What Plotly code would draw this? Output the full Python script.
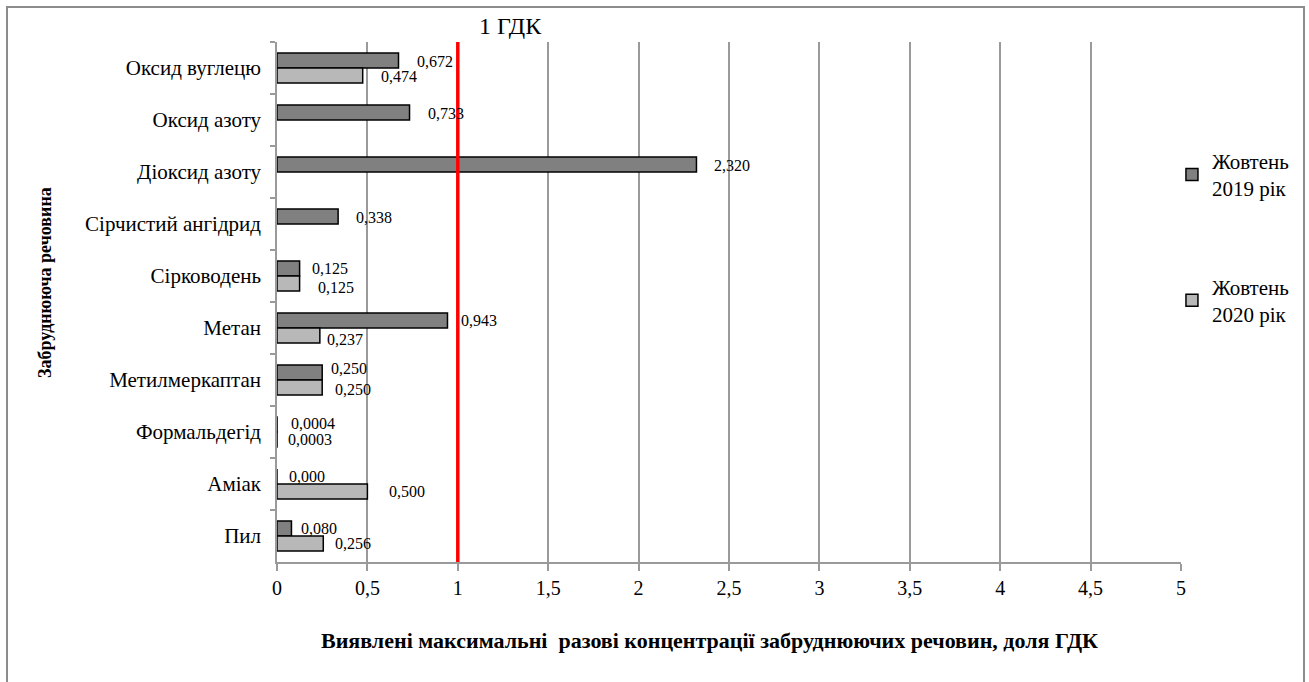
import plotly.graph_objects as go

# Pollutants, top to bottom
substances = [
    "Оксид вуглецю", "Оксид азоту", "Діоксид азоту", "Сірчистий ангідрид",
    "Сірководень", "Метан", "Метилмеркаптан", "Формальдегід", "Аміак", "Пил",
]
# Maximum single concentrations, share of MPC (ГДК)
oct_2019 = [0.672, 0.733, 2.320, 0.338, 0.125, 0.943, 0.250, 0.0004, 0.000, 0.080]
oct_2020 = [0.474, None, None, None, 0.125, 0.237, 0.250, 0.0003, 0.500, 0.256]
x_ticks = [0, 0.5, 1, 1.5, 2, 2.5, 3, 3.5, 4, 4.5, 5]
mpc_level = 1

x_title = "Виявлені максимальні  разові концентрації забруднюючих речовин, доля ГДК"
y_title = "Забруднююча речовина"

# label placement tweaks in pixels (gap after bar end, vertical nudge)
dx_2019 = [16, 16, 16, 16, 10, 12, 7, 12, 10, 8]
dy_2019 = [-1, -1, -1, -1, 0, 0, 4, 1, 0, 0]
dx_2020 = [16, 0, 0, 0, 16, 5, 11, 9, 20, 10]
dy_2020 = [-1, 0, 0, 0, -4, -4, -2, 0, 0, 0]

SERIF = "Liberation Serif, Times New Roman, serif"
DARK = "#808080"
LIGHT = "#b8b8b8"
GRID = "#9a9a9a"

# plot-area geometry in pixels
L, R, T, B = 277, 128, 42, 120
W, H = 1309, 682
PW, PH = W - L - R, H - T - B


def fmt(v):
    if 0 < v < 0.001:
        return f"{v:.4f}".replace(".", ",")
    return f"{v:.3f}".replace(".", ",")


def px_x(px):
    return (px - L) / PW


def px_y(py):
    return 1 - (py - T) / PH


fig = go.Figure()
fig.add_trace(go.Bar(
    y=substances, x=oct_2019, orientation="h", name="Жовтень<br>2019 рік",
    legendgroup="a",
    marker=dict(color=DARK, line=dict(color="black", width=1.5)),
))
fig.add_trace(go.Bar(
    y=substances, x=oct_2020, orientation="h", name="Жовтень<br>2020 рік",
    legendgroup="b",
    marker=dict(color=LIGHT, line=dict(color="black", width=1.5)),
))

BAR_OFFSET = 7.5  # half distance between the two bar centres, px
annotations = []
for i, name in enumerate(substances):
    for vals, dx, dy, sign in ((oct_2019, dx_2019, dy_2019, 1), (oct_2020, dx_2020, dy_2020, -1)):
        v = vals[i]
        if v is None:
            continue
        annotations.append(dict(
            x=v, y=name, xref="x", yref="y", text=fmt(v), showarrow=False,
            xanchor="left", yanchor="middle",
            xshift=dx[i], yshift=sign * BAR_OFFSET + dy[i],
            font=dict(family=SERIF, size=16, color="black"),
        ))

annotations.append(dict(
    x=mpc_level, y=1.0, xref="x", yref="paper", text="1 ГДК", showarrow=False,
    xanchor="left", yanchor="bottom", xshift=19, yshift=1,
    font=dict(family=SERIF, size=24, color="black"),
))
# axis titles
annotations.append(dict(
    x=px_x(709), y=px_y(640), xref="paper", yref="paper", text=f"<b>{x_title}</b>",
    showarrow=False, xanchor="center", yanchor="middle",
    font=dict(family=SERIF, size=22, color="black"),
))
annotations.append(dict(
    x=px_x(45), y=px_y(283), xref="paper", yref="paper", text=f"<b>{y_title}</b>",
    showarrow=False, xanchor="center", yanchor="middle", textangle=-90,
    font=dict(family=SERIF, size=18, color="black"),
))

fig.update_layout(
    width=W, height=H,
    margin=dict(l=L, r=R, t=T, b=B),
    paper_bgcolor="white", plot_bgcolor="white",
    separators=", ",
    barmode="group", bargap=0.42, bargroupgap=0,
    font=dict(family=SERIF, size=20, color="black"),
    showlegend=True,
    legend=dict(
        x=0.99, xanchor="left", y=0.81, yanchor="top",
        font=dict(family=SERIF, size=21, color="black"),
        tracegroupgap=68, itemwidth=30,
        bgcolor="rgba(0,0,0,0)",
    ),
    annotations=annotations,
    shapes=[
        dict(type="line", xref="x", yref="paper", x0=mpc_level, x1=mpc_level,
             y0=0, y1=1, line=dict(color="#ff0000", width=3.5), layer="above"),
        dict(type="rect", xref="paper", yref="paper",
             x0=px_x(7), x1=px_x(1304), y0=-0.3, y1=px_y(7),
             line=dict(color="#8c8c8c", width=2), layer="below"),
    ],
)

fig.update_xaxes(
    range=[0, 5], tickvals=x_ticks,
    showgrid=True, gridcolor=GRID, gridwidth=1.5,
    showline=True, linecolor=GRID, linewidth=1.5,
    ticks="outside", ticklen=7, tickcolor=GRID, tickwidth=1.5,
    zeroline=False,
    tickfont=dict(family=SERIF, size=20, color="black"),
)
fig.update_yaxes(
    autorange="reversed", type="category",
    showgrid=False,
    showline=True, linecolor=GRID, linewidth=1.5,
    ticks="outside", ticklen=5, tickcolor=GRID, tickwidth=1.5,
    tickson="boundaries", ticklabelstandoff=10,
    tickfont=dict(family=SERIF, size=21, color="black"),
)

fig.write_html("out.html")
